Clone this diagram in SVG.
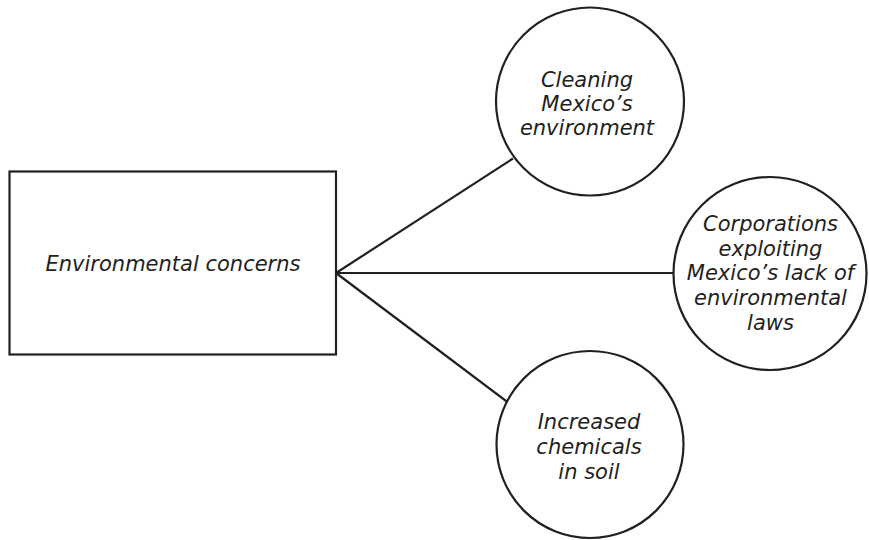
<svg xmlns="http://www.w3.org/2000/svg" width="869" height="540" viewBox="0 0 869 540">
<style>
.shape{fill:#ffffff;stroke:#231f20;stroke-width:2.2}
.conn{stroke:#231f20;stroke-width:2.2;fill:none}
.lbl{font-family:"DejaVu Sans","Verdana",sans-serif;font-style:italic;font-size:21px;fill:#231f20;text-anchor:middle}
</style>
<rect width="869" height="540" fill="#ffffff"/>
<g id="connectors">
<line class="conn" x1="336" y1="273" x2="513" y2="158.5"/>
<line class="conn" x1="336" y1="273" x2="674" y2="273"/>
<line class="conn" x1="336" y1="273" x2="509.5" y2="403.5"/>
</g>
<g id="node-root">
<rect class="shape" x="9.5" y="171.5" width="326.5" height="183"/>
<text class="lbl" x="173" y="271">Environmental concerns</text>
</g>
<g id="node-cleaning">
<circle class="shape" cx="590" cy="101.5" r="94"/>
<text class="lbl" x="587" y="87">Cleaning</text>
<text class="lbl" x="587" y="111">Mexico’s</text>
<text class="lbl" x="587" y="135">environment</text>
</g>
<g id="node-corporations">
<circle class="shape" cx="770" cy="273.5" r="96.5"/>
<text class="lbl" x="770.5" y="231">Corporations</text>
<text class="lbl" x="770.5" y="255.5">exploiting</text>
<text class="lbl" x="770.5" y="280">Mexico’s lack of</text>
<text class="lbl" x="770.5" y="305">environmental</text>
<text class="lbl" x="770.5" y="330">laws</text>
</g>
<g id="node-chemicals">
<circle class="shape" cx="590" cy="444.5" r="93.5"/>
<text class="lbl" x="589" y="429">Increased</text>
<text class="lbl" x="589" y="454">chemicals</text>
<text class="lbl" x="589" y="479">in soil</text>
</g>
</svg>
